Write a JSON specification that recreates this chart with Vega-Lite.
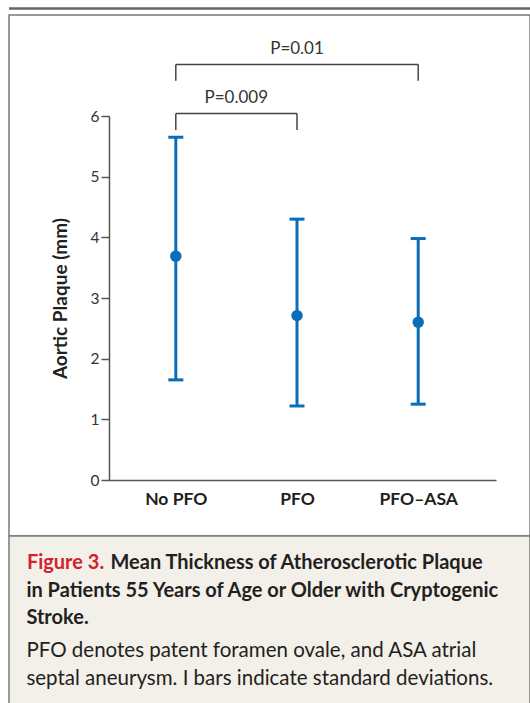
{
  "$schema": "https://vega.github.io/schema/vega-lite/v6.json",
  "width": 521,
  "height": 521,
  "autosize": {"type": "none"},
  "padding": {"left": 9, "top": 15, "right": 0, "bottom": 167},
  "background": "white",
  "title": {
    "text": [
      "in Patients 55 Years of Age or Older with Cryptogenic",
      "Stroke."
    ],
    "subtitle": [
      "PFO denotes patent foramen ovale, and ASA atrial",
      "septal aneurysm. I bars indicate standard deviations."
    ],
    "orient": "bottom",
    "anchor": "start",
    "frame": "group",
    "offset": -125,
    "dx": 17.4,
    "font": "Lato",
    "fontSize": 20,
    "fontWeight": "bold",
    "color": "#231f20",
    "lineHeight": 27,
    "subtitleFont": "Lato",
    "subtitleFontSize": 20.5,
    "subtitleFontWeight": "normal",
    "subtitleColor": "#231f20",
    "subtitleLineHeight": 28,
    "subtitlePadding": 13
  },
  "datasets": {
    "stats": [
      {"group": "No PFO", "mean": 3.69, "lower": 1.65, "upper": 5.65},
      {"group": "PFO", "mean": 2.71, "lower": 1.22, "upper": 4.3},
      {"group": "PFO–ASA", "mean": 2.6, "lower": 1.25, "upper": 3.98}
    ],
    "brackets": [
      {"from": "No PFO", "to": "PFO", "top": 6.04, "bottom": 5.77, "p": "P=0.009", "labelY": 6.21},
      {"from": "No PFO", "to": "PFO–ASA", "top": 6.85, "bottom": 6.58, "p": "P=0.01", "labelY": 7.02}
    ],
    "panel": [{"part": "caption"}]
  },
  "resolve": {"scale": {"y": "independent"}, "axis": {"y": "independent"}},
  "layer": [
    {
      "layer": [
        {
          "data": {"name": "panel"},
          "mark": {"type": "rule", "color": "#666666", "strokeWidth": 2.5},
          "encoding": {
            "y": {"datum": 7.77, "type": "quantitative"}
          }
        },
        {
          "data": {"name": "stats"},
          "mark": {"type": "rule", "color": "#0b6db7", "strokeWidth": 3},
          "encoding": {
            "x": {
              "field": "group", "type": "nominal", "title": "Figure 3.",
              "scale": {"type": "point", "domain": ["No PFO", "PFO", "PFO–ASA"], "range": [100, 487], "padding": 0.5965, "align": 0.462},
              "axis": {
                "orient": "bottom",
                "offset": -56,
                "zindex": 1,
                "grid": false,
                "ticks": false,
                "tickSize": 0,
                "labelAngle": 0,
                "labelFont": "Lato",
                "labelFontSize": 17.5,
                "labelFontWeight": "bold",
                "labelColor": "#231f20",
                "labelPadding": 10,
                "domainColor": "#555555",
                "domainWidth": 1.5,
                "titleFont": "Lato",
                "titleFontSize": 20,
                "titleFontWeight": "bold",
                "titleColor": "#d2232a",
                "titleX": 17.4,
                "titleY": 88.3,
                "titleAlign": "left",
                "titleBaseline": "alphabetic",
                "titleAngle": 0
              }
            },
            "y": {
              "field": "lower", "type": "quantitative", "title": "Aortic Plaque (mm)",
              "scale": {"domain": [0, 6], "range": [465, 101], "nice": false, "zero": false},
              "axis": {
                "orient": "left",
                "offset": -100,
                "zindex": 1,
                "values": [0, 1, 2, 3, 4, 5, 6],
                "format": "d",
                "grid": false,
                "labelFont": "Lato",
                "labelFontSize": 15.5,
                "labelColor": "#333333",
                "labelPadding": 2,
                "tickSize": 8,
                "tickColor": "#555555",
                "tickWidth": 1.5,
                "domainColor": "#555555",
                "domainWidth": 1.5,
                "titleFont": "Lato",
                "titleFontSize": 19,
                "titleFontWeight": "bold",
                "titleColor": "#231f20",
                "titleX": -43,
                "titleY": 283,
                "titleAngle": -90,
                "titleAlign": "center",
                "titleBaseline": "alphabetic"
              }
            },
            "y2": {"field": "upper"}
          }
        },
        {
          "data": {"name": "stats"},
          "mark": {"type": "tick", "color": "#0b6db7", "size": 15, "thickness": 3, "opacity": 1},
          "encoding": {
            "x": {"field": "group", "type": "nominal", "title": "Figure 3."},
            "y": {"field": "lower", "type": "quantitative", "title": "Aortic Plaque (mm)"}
          }
        },
        {
          "data": {"name": "stats"},
          "mark": {"type": "tick", "color": "#0b6db7", "size": 15, "thickness": 3, "opacity": 1},
          "encoding": {
            "x": {"field": "group", "type": "nominal", "title": "Figure 3."},
            "y": {"field": "upper", "type": "quantitative", "title": "Aortic Plaque (mm)"}
          }
        },
        {
          "data": {"name": "stats"},
          "mark": {"type": "point", "filled": true, "color": "#0b6db7", "size": 130, "opacity": 1},
          "encoding": {
            "x": {"field": "group", "type": "nominal", "title": "Figure 3."},
            "y": {"field": "mean", "type": "quantitative", "title": "Aortic Plaque (mm)"}
          }
        },
        {
          "data": {"name": "brackets"},
          "mark": {"type": "rule", "color": "#444444", "strokeWidth": 1.5},
          "encoding": {
            "x": {"field": "from", "type": "nominal", "title": "Figure 3."},
            "x2": {"field": "to"},
            "y": {"field": "top", "type": "quantitative", "title": "Aortic Plaque (mm)"}
          }
        },
        {
          "data": {"name": "brackets"},
          "mark": {"type": "rule", "color": "#444444", "strokeWidth": 1.5},
          "encoding": {
            "x": {"field": "from", "type": "nominal", "title": "Figure 3."},
            "y": {"field": "top", "type": "quantitative", "title": "Aortic Plaque (mm)"},
            "y2": {"field": "bottom"}
          }
        },
        {
          "data": {"name": "brackets"},
          "mark": {"type": "rule", "color": "#444444", "strokeWidth": 1.5},
          "encoding": {
            "x": {"field": "to", "type": "nominal", "title": "Figure 3."},
            "y": {"field": "top", "type": "quantitative", "title": "Aortic Plaque (mm)"},
            "y2": {"field": "bottom"}
          }
        },
        {
          "data": {"name": "brackets"},
          "transform": [{"filter": "datum.p == 'P=0.01'"}],
          "mark": {"type": "text", "font": "Lato", "fontSize": 17, "color": "#333333", "align": "center", "baseline": "alphabetic"},
          "encoding": {
            "x": {"field": "to", "type": "nominal", "title": "Figure 3."},
            "y": {"field": "labelY", "type": "quantitative", "title": "Aortic Plaque (mm)"},
            "text": {"field": "p"},
            "xOffset": {"value": -121.2}
          }
        },
        {
          "data": {"name": "brackets"},
          "transform": [{"filter": "datum.p == 'P=0.009'"}],
          "mark": {"type": "text", "font": "Lato", "fontSize": 17, "color": "#333333", "align": "center", "baseline": "alphabetic", "dx": 60.5},
          "encoding": {
            "x": {"field": "from", "type": "nominal", "title": "Figure 3."},
            "y": {"field": "labelY", "type": "quantitative", "title": "Aortic Plaque (mm)"},
            "text": {"field": "p"}
          }
        }
      ]
    },
    {
      "data": {"name": "panel"},
      "mark": {"type": "rect", "fill": "#f3f0ea", "stroke": "#7a7a7a", "strokeWidth": 1.5},
      "encoding": {
        "y": {
          "datum": 0, "type": "quantitative",
          "scale": {"domain": [0, 1], "range": [521, 690], "nice": false, "zero": false},
          "axis": {
            "orient": "right",
            "title": "Mean Thickness of Atherosclerotic Plaque",
            "labels": false,
            "ticks": false,
            "domain": false,
            "grid": false,
            "zindex": 1,
            "titleX": -420,
            "titleY": 553.3,
            "titleAngle": 0,
            "titleAlign": "left",
            "titleBaseline": "alphabetic",
            "titleFont": "Lato",
            "titleFontSize": 20,
            "titleFontWeight": "bold",
            "titleColor": "#231f20"
          }
        },
        "y2": {"datum": 1}
      }
    }
  ],
  "config": {
    "view": {"fill": "white", "stroke": "#7a7a7a", "strokeWidth": 1.5}
  }
}
